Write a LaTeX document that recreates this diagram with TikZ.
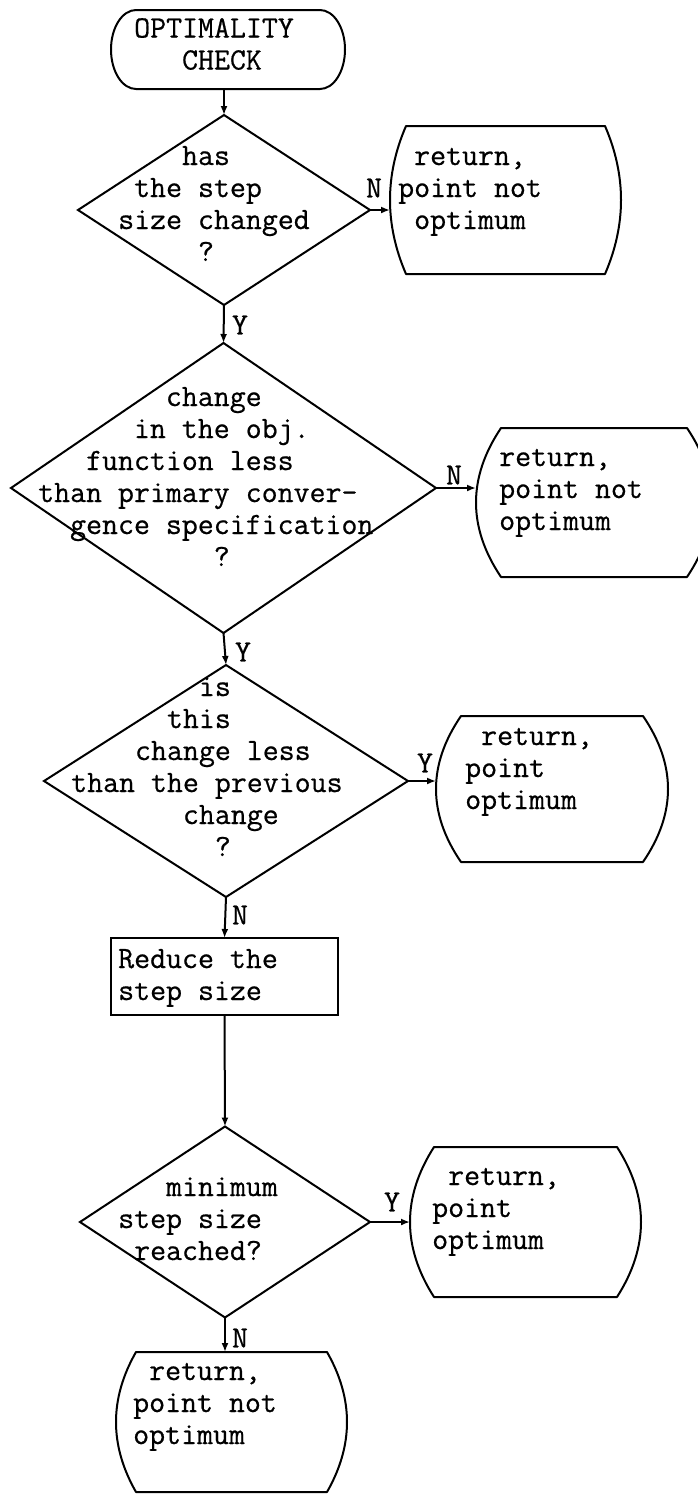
\documentclass[tikz,border=0pt]{standalone}
\usepackage{fontspec}
\newfontfamily\tyfont{Latin Modern Mono}[FakeBold=0.6]
\usetikzlibrary{shapes.geometric,arrows.meta,calc}
\newcommand\sk[1]{\hspace*{#1\fontcharwd\font`0}}
\newcommand\barrel[2]{\draw[lw] ([xshift=#2pt]#1.north west) -- ([xshift=-#2pt]#1.north east)
 .. controls ([xshift={#2pt/3}]$(#1.north east)!0.3333!(#1.south east)$) and ([xshift={#2pt/3}]$(#1.north east)!0.6667!(#1.south east)$) .. ([xshift=-#2pt]#1.south east)
 -- ([xshift=#2pt]#1.south west)
 .. controls ([xshift={-#2pt/3}]$(#1.north west)!0.6667!(#1.south west)$) and ([xshift={-#2pt/3}]$(#1.north west)!0.3333!(#1.south west)$) .. ([xshift=#2pt]#1.north west) -- cycle;}
\tikzset{
  lw/.style={line width=2pt, line join=round},
  arr/.style={lw, -{Latex[length=9pt,width=7pt]}},
  dec/.style={diamond, draw, line width=2pt, inner sep=0pt, outer sep=0pt},
  holder/.style={rectangle, inner sep=0pt, outer sep=0pt, draw=none},
  procbox/.style={rectangle, draw, line width=2pt, inner sep=0pt, outer sep=0pt},
  txt/.style={font=\fontsize{31}{32}\selectfont\tyfont, align=left, anchor=base west, inner sep=0pt},
  lbl/.style={font=\fontsize{31}{32}\selectfont\tyfont, inner sep=0pt},
}
\begin{document}
\begin{tikzpicture}[x=1pt,y=-1pt]
\useasboundingbox (0,0) rectangle (698,1497);
% terminal
\node[holder, minimum width=234pt, minimum height=79pt] (term) at (228,49.5) {};
\draw[lw] ([xshift=25pt]term.north west) -- ([xshift=-25pt]term.north east)
  arc[start angle=90,end angle=-90,x radius=25pt,y radius=39.5pt]
  -- ([xshift=25pt]term.south west)
  arc[start angle=270,end angle=90,x radius=25pt,y radius=39.5pt] -- cycle;
% decisions
\node[dec, minimum width=292pt, minimum height=190pt] (d1) at (224,210) {};
\node[dec, minimum width=425pt, minimum height=290pt] (d2) at (223.5,488) {};
\node[dec, minimum width=364pt, minimum height=232pt] (d3) at (226,781) {};
\node[dec, minimum width=290pt, minimum height=191pt] (d4) at (225,1222) {};
% process
\node[procbox, minimum width=227pt, minimum height=77pt] (rect) at (224.5,976.5) {};
% return boxes
\node[holder, minimum width=231pt, minimum height=148pt] (r1) at (505.5,200) {};
\node[holder, minimum width=236pt, minimum height=149pt] (r2) at (594,502.5) {};
\node[holder, minimum width=232pt, minimum height=146pt] (r3) at (552,789) {};
\node[holder, minimum width=231pt, minimum height=150pt] (r4) at (525.5,1222) {};
\node[holder, minimum width=231pt, minimum height=140pt] (r5) at (231.5,1422) {};
\barrel{r1}{16}
\barrel{r2}{25}
\barrel{r3}{25}
\barrel{r4}{24}
\barrel{r5}{20}
% texts (anchored at the baseline of the last line)
\node[txt] (t0) at (134,69.5) {OPTIMALITY\\\sk3CHECK};
\node[txt] (t1) at (118,261) {\sk4has\\\sk1the step\\size changed\\\sk5?};
\node[txt] (t1r) at (398,229) {\sk1return,\\point not\\\sk1optimum};
\node[txt] (t2) at (38,566) {\sk8change\\\sk6in the obj.\\\sk3function less\\than primary conver-\\\sk2gence specification\\\sk{11}?};
\node[txt] (t2r) at (499,530) {return,\\point not\\optimum};
\node[txt] (t3) at (71,856) {\sk8is\\\sk6this\\\sk4change less\\than the previous\\\sk7change\\\sk9?};
\node[txt] (t3r) at (465,809) {\sk1return,\\point\\optimum};
\node[txt] (t4) at (118,1000) {Reduce the\\step size};
\node[txt] (t5) at (118,1260) {\sk3minimum\\step size\\\sk1reached?};
\node[txt] (t5r) at (432,1249) {\sk1return,\\point\\optimum};
\node[txt] (t6) at (133,1444) {\sk1return,\\point not\\optimum};
% connectors
\draw[arr] (d1.north |- term.south) -- (d1.north);
\draw[arr] (d1.east) -- (d1.east -| r1.west);
\draw[arr] (d1.south) -- (d2.north);
\draw[arr] (d2.east) -- (d2.east -| r2.west);
\draw[arr] (d2.south) -- (d3.north);
\draw[arr] (d3.east) -- (d3.east -| r3.west);
\draw[arr] (d3.south) -- (rect.north);
\draw[arr] (rect.south) -- (d4.north);
\draw[arr] (d4.east) -- (d4.east -| r4.west);
\draw[arr] (d4.south) -- (d4.south |- r5.north);
% labels
\node[lbl] (n1) at (374,188) {N};
\node[lbl] (y1) at (240,325) {Y};
\node[lbl] (n2) at (454,475) {N};
\node[lbl] (y2) at (243,652) {Y};
\node[lbl] (y3) at (425,763) {Y};
\node[lbl] (n3) at (240,915) {N};
\node[lbl] (y4) at (392,1202) {Y};
\node[lbl] (n4) at (240,1338) {N};
\end{tikzpicture}
\end{document}
